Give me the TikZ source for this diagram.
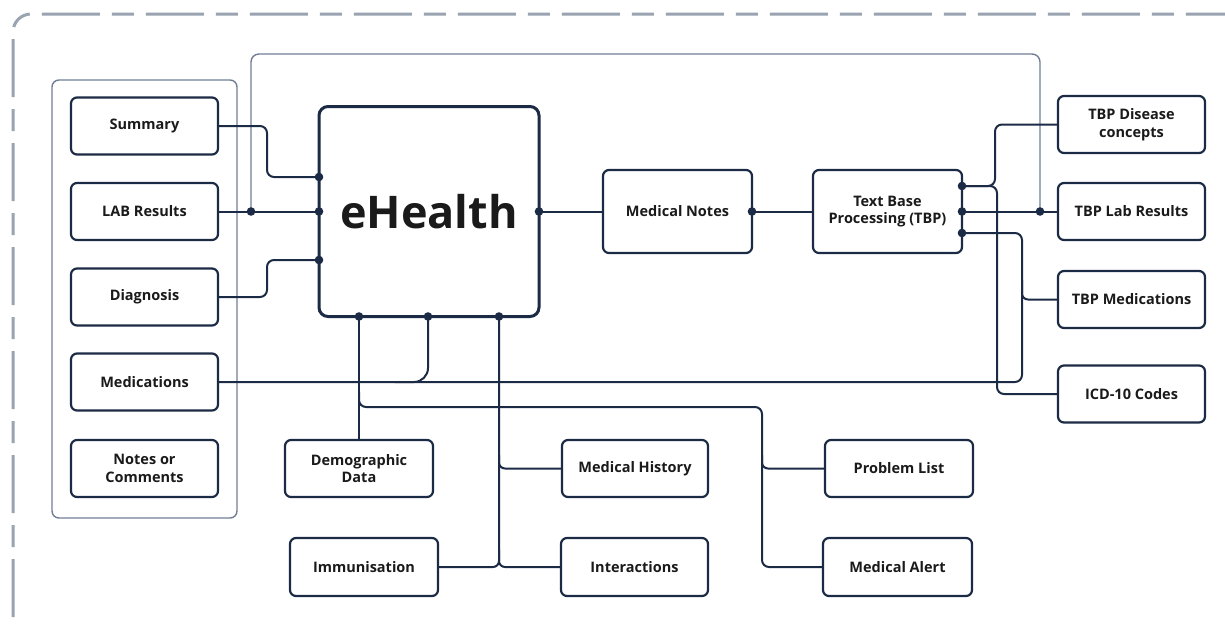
\documentclass[tikz,border=0pt]{standalone}
\usepackage{fontspec}
\setmainfont{Open Sans}
\begin{document}
\definecolor{navy}{HTML}{1C2B45}
\definecolor{framegray}{HTML}{9AA3B0}
\definecolor{groupline}{HTML}{6F7E93}
\definecolor{txt}{HTML}{1A1A1A}
\begin{tikzpicture}[x=1pt,y=-1pt,
  box/.style={draw=navy,line width=2.2pt,rounded corners=6pt,fill=white,
    minimum width=147pt,minimum height=57pt,align=center,inner sep=2pt,
    outer sep=0pt,text=txt,font=\fontsize{14.5}{17.5}\selectfont\bfseries},
  conn/.style={draw=navy,line width=2pt,rounded corners=7pt},
  thinline/.style={draw=groupline,line width=1.4pt,rounded corners=8pt},
  dot/.style={fill=navy}]
\useasboundingbox (0,0) rectangle (1225,624);

% outer dashed frame (open at right and bottom)
\draw[framegray,line width=3pt,rounded corners=18pt,
  dash pattern=on 58pt off 12pt on 22pt off 12pt] (13,617) -- (13,14) -- (1225,14);

% left group box
\draw[thinline,rounded corners=7pt] (52,80) rectangle (237,518);

% nodes
\node[box] (sum)   at (144.5,126)   {Summary};
\node[box] (lab)   at (144.5,211.5) {LAB Results};
\node[box] (diag)  at (144.5,297)   {Diagnosis};
\node[box] (meds)  at (144.5,382)   {Medications};
\node[box] (notes) at (144.5,468.5) {Notes or\\Comments};

\node[box,line width=3pt,rounded corners=9pt,minimum width=220pt,minimum height=210pt,
  font=\fontsize{45}{50}\selectfont\bfseries] (eh) at (429,211.5) {eHealth};

\node[box,minimum width=149pt,minimum height=83pt] (mn)  at (677.5,211.5) {Medical Notes};
\node[box,minimum width=149pt,minimum height=83pt] (tbp) at (887.5,211.5) {Text Base\\Processing (TBP)};

\node[box] (dis)  at (1131.5,124.5) {TBP Disease\\concepts};
\node[box] (tlab) at (1131.5,211.5) {TBP Lab Results};
\node[box] (tmed) at (1131.5,299.5) {TBP Medications};
\node[box] (icd)  at (1131.5,394)   {ICD-10 Codes};

\node[box,minimum width=148pt] (demo)  at (359,468.5) {Demographic\\Data};
\node[box,minimum width=148pt,minimum height=58pt] (imm)   at (364,567)   {Immunisation};
\node[box,minimum width=146pt] (mh)    at (635,468.5) {Medical History};
\node[box,minimum width=147pt,minimum height=58pt] (inter) at (634.5,567)  {Interactions};
\node[box,minimum width=148pt] (pl)    at (899,468.5) {Problem List};
\node[box,minimum width=149pt,minimum height=58pt] (ma)    at (897.5,567)  {Medical Alert};

% junction points
\coordinate (e1) at (319,177);
\coordinate (e2) at (319,211.5);
\coordinate (e3) at (319,260);
\coordinate (b1) at (359,316.5);
\coordinate (b2) at (428,316.5);
\coordinate (b3) at (499,316.5);
\coordinate (t1) at (962,186);
\coordinate (t2) at (962,211.5);
\coordinate (t3) at (962,233);
\coordinate (jl) at (251,211.5);
\coordinate (jr) at (1040,211.5);

% thin link from LAB Results to TBP Lab Results
\draw[thinline] (jl) -- (251,54) -- (1040,54) -- (jr);

% inputs into eHealth
\draw[conn] (sum.east) -- (267,126) -- (267,177) -- (e1);
\draw[conn] (lab.east) -- (e2);
\draw[conn] (diag.east) -- (267,297) -- (267,260) -- (e3);

% medications bus
\draw[conn] (meds.east) -- (1022,382) -- (1022,233) -- (t3);
\draw[conn,rounded corners=14pt] (b2) -- (428,382) -- (395,382);
\draw[conn,rounded corners=6pt] (1022,280) |- (tmed.west);

% eHealth to notes and TBP
\draw[conn] (eh.east) -- (mn.west);
\draw[conn] (mn.east) -- (tbp.west);

% TBP outputs
\draw[conn] (t1) -- (995,186) |- (dis.west);
\draw[conn] (t1) -- (997,186) |- (icd.west);
\draw[conn] (t2) -- (tlab.west);

% lower branches
\draw[conn] (b1) -- (demo.north);
\draw[conn] (359,392) |- (762,407) |- (ma.west);
\draw[conn,rounded corners=6pt] (762,455) |- (pl.west);
\draw[conn,rounded corners=6pt] (b3) |- (inter.west);
\draw[conn,rounded corners=6pt] (499,550) |- (imm.east);
\draw[conn,rounded corners=6pt] (499,455) |- (mh.west);

% junction dots
\foreach \p in {e1,e2,e3,b1,b2,b3,t1,t2,t3,jl,jr,eh.east,mn.east}
  \fill[dot] (\p) circle (4.3pt);
\end{tikzpicture}
\end{document}
